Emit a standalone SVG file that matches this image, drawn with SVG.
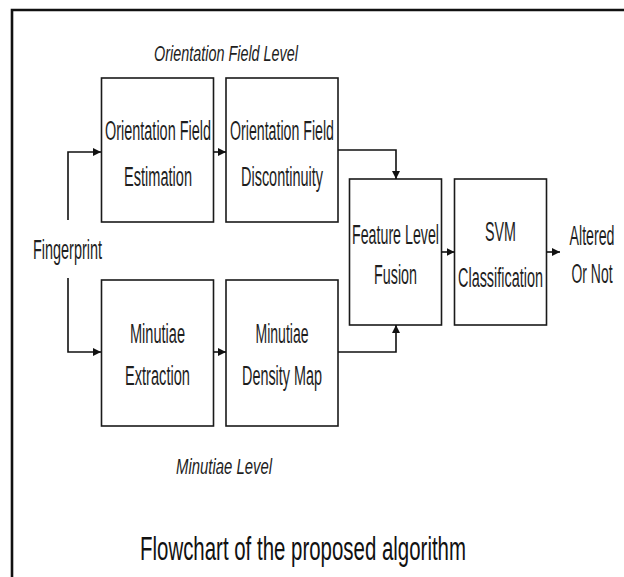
<svg xmlns="http://www.w3.org/2000/svg" width="624" height="577" viewBox="0 0 624 577">
<style>
.box{fill:#fff;stroke:#1a1a1a;stroke-width:1.6}
.t{font-family:"Liberation Sans",Arial,sans-serif;font-size:27px;fill:#1e1e1e;text-anchor:middle}
.it{font-family:"Liberation Sans",Arial,sans-serif;font-size:22px;font-style:italic;fill:#1e1e1e;text-anchor:middle}
.cap{font-family:"Liberation Sans",Arial,sans-serif;font-size:34px;fill:#111;text-anchor:middle}
.c{fill:none;stroke:#111;stroke-width:1.6}
</style>
<defs>
<marker id="ah" viewBox="0 0 10 10" refX="10" refY="5" markerWidth="8" markerHeight="8" markerUnits="userSpaceOnUse" orient="auto">
<path d="M0,0 L10,5 L0,10 Z" fill="#111"/>
</marker>
</defs>
<rect width="624" height="577" fill="#fff"/>
<g id="frame">
<path d="M12,577 V10 H624" fill="none" stroke="#111" stroke-width="2.6"/>
</g>
<g id="labels">
<text class="it" x="226" y="61" textLength="144" lengthAdjust="spacingAndGlyphs">Orientation Field Level</text>
<text class="it" x="224" y="474" textLength="96" lengthAdjust="spacingAndGlyphs">Minutiae Level</text>
<text class="cap" x="303" y="560" textLength="326" lengthAdjust="spacingAndGlyphs">Flowchart of the proposed algorithm</text>
</g>
<g id="fingerprint">
<text class="t" x="67.5" y="259" textLength="69" lengthAdjust="spacingAndGlyphs">Fingerprint</text>
</g>
<g id="ofe">
<rect class="box" x="101.5" y="78" width="112" height="144"/>
<text class="t" x="158" y="140" textLength="106" lengthAdjust="spacingAndGlyphs">Orientation Field</text>
<text class="t" x="158" y="186" textLength="68" lengthAdjust="spacingAndGlyphs">Estimation</text>
</g>
<g id="ofd">
<rect class="box" x="226" y="78" width="112" height="144"/>
<text class="t" x="282" y="140" textLength="104" lengthAdjust="spacingAndGlyphs">Orientation Field</text>
<text class="t" x="282" y="186" textLength="82" lengthAdjust="spacingAndGlyphs">Discontinuity</text>
</g>
<g id="me">
<rect class="box" x="101.5" y="280" width="112" height="146"/>
<text class="t" x="157.5" y="343" textLength="55" lengthAdjust="spacingAndGlyphs">Minutiae</text>
<text class="t" x="157.5" y="385" textLength="65" lengthAdjust="spacingAndGlyphs">Extraction</text>
</g>
<g id="mdm">
<rect class="box" x="226" y="280" width="112" height="146"/>
<text class="t" x="282" y="343" textLength="53" lengthAdjust="spacingAndGlyphs">Minutiae</text>
<text class="t" x="282" y="385" textLength="80" lengthAdjust="spacingAndGlyphs">Density Map</text>
</g>
<g id="flf">
<rect class="box" x="349.5" y="179" width="92" height="146"/>
<text class="t" x="395.5" y="244" textLength="87" lengthAdjust="spacingAndGlyphs">Feature Level</text>
<text class="t" x="395.5" y="284" textLength="43" lengthAdjust="spacingAndGlyphs">Fusion</text>
</g>
<g id="svm">
<rect class="box" x="454.5" y="179" width="92" height="146"/>
<text class="t" x="500.5" y="241" textLength="31" lengthAdjust="spacingAndGlyphs">SVM</text>
<text class="t" x="500.5" y="287" textLength="85" lengthAdjust="spacingAndGlyphs">Classification</text>
</g>
<g id="out">
<text class="t" x="592" y="245" textLength="45" lengthAdjust="spacingAndGlyphs">Altered</text>
<text class="t" x="592" y="283" textLength="41" lengthAdjust="spacingAndGlyphs">Or Not</text>
</g>
<g id="connectors">
<path class="c" d="M68,220 V152 H101" marker-end="url(#ah)"/>
<path class="c" d="M68,278 V352 H101" marker-end="url(#ah)"/>
<path class="c" d="M213.5,152 H226" marker-end="url(#ah)"/>
<path class="c" d="M213.5,352 H226" marker-end="url(#ah)"/>
<path class="c" d="M338,150 H396 V179" marker-end="url(#ah)"/>
<path class="c" d="M338,352 H396 V325" marker-end="url(#ah)"/>
<path class="c" d="M441.5,252 H454.5" marker-end="url(#ah)"/>
<path class="c" d="M546.5,252 H560" marker-end="url(#ah)"/>
</g>
</svg>
